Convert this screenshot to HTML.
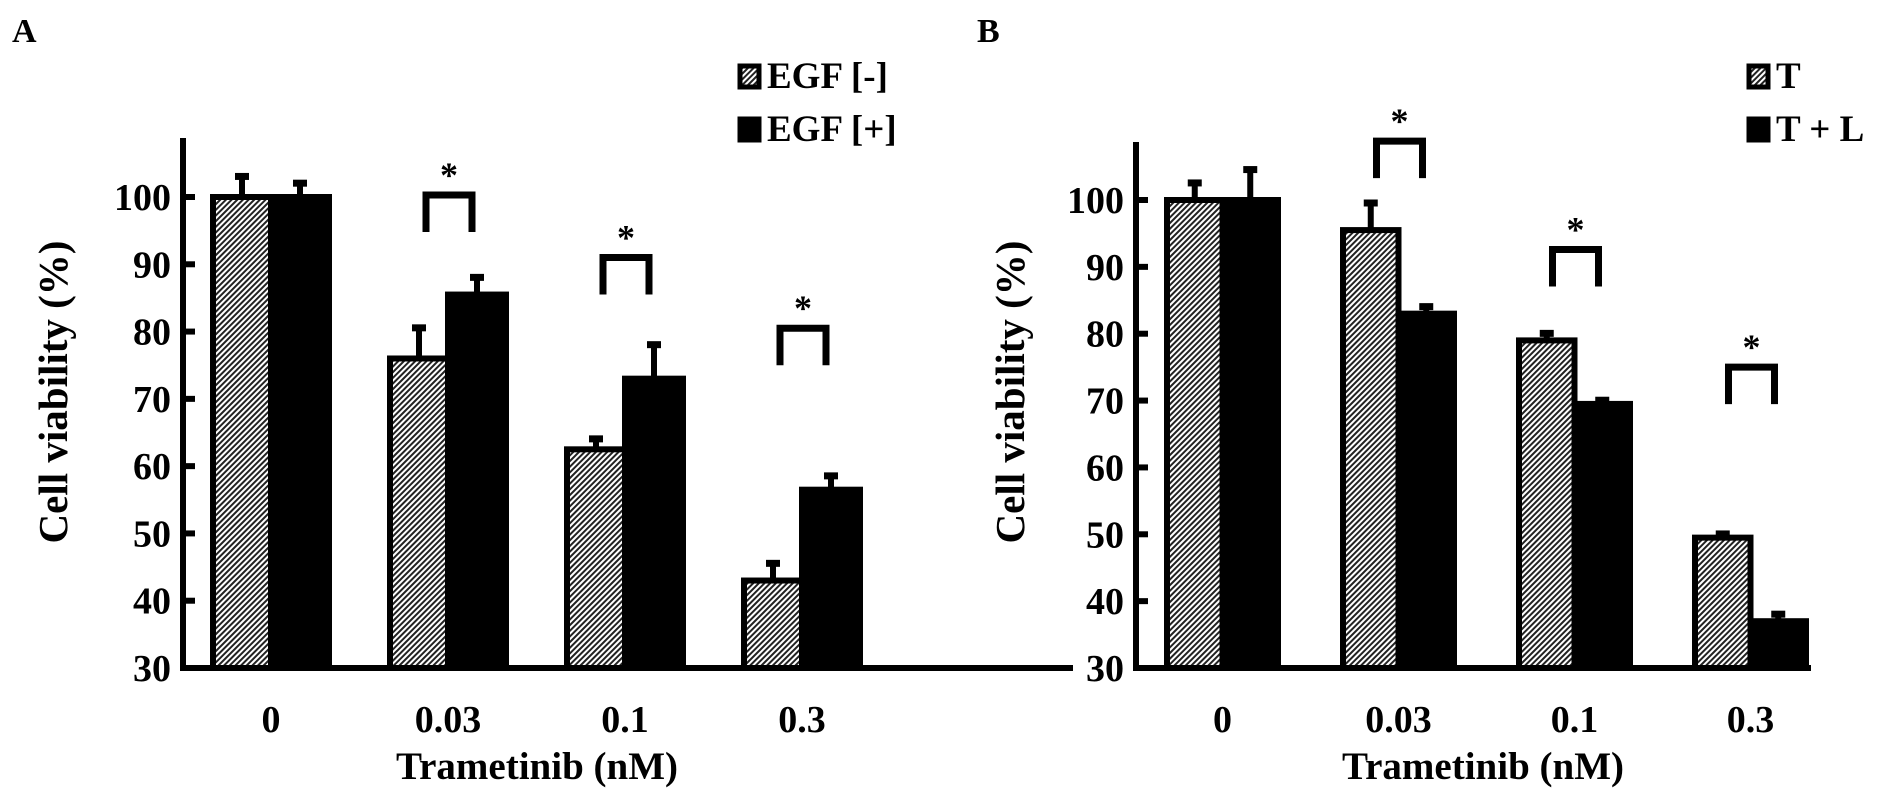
<!DOCTYPE html>
<html><head><meta charset="utf-8">
<style>
html,body{margin:0;padding:0;background:#fff;}
svg{display:block;font-family:"Liberation Serif",serif;font-weight:bold;}
</style></head>
<body>
<svg id="c" width="1890" height="802" viewBox="0 0 1890 802" xmlns="http://www.w3.org/2000/svg">
<defs>
<pattern id="hatch" patternUnits="userSpaceOnUse" width="4" height="4" patternTransform="rotate(45)">
<rect width="4" height="4" fill="#fff"/>
<rect width="2" height="4" fill="#222"/>
</pattern>
</defs>
</svg>
<script>
const categories = ["0","0.03","0.1","0.3"];
const yTicks = [30,40,50,60,70,80,90,100];
const aSeries1 = [100,76,62.5,43];
const aErr1 = [3.5,5,2,3];
const aSeries2 = [100,85.5,73,56.5];
const aErr2 = [2.5,3,5.5,2.5];
const aSig = [false,true,true,true];
const aBracket = [0,100.3,91,80.5];
const aLegend = ["EGF [-]","EGF [+]"];
const bSeries1 = [100,95.5,79,49.5];
const bErr1 = [3,4.5,1.5,1];
const bSeries2 = [100,83,69.5,37];
const bErr2 = [5,1.5,1,1.5];
const bSig = [false,true,true,true];
const bBracket = [0,108.8,92.6,75];
const bLegend = ["T","T + L"];

const svg = document.getElementById('c');
const NS = 'http://www.w3.org/2000/svg';
function mk(tag, attrs, text){
  const e = document.createElementNS(NS, tag);
  for (const k in attrs) e.setAttribute(k, attrs[k]);
  if (text !== undefined) e.textContent = text;
  svg.appendChild(e);
  return e;
}
const yMin = 30, yMax = 100;

function panel(p){
  const ax = p.axisX;
  const yBottom = p.yBottom, yTop100 = p.yTop;
  const yS = v => yBottom - (v - yMin) * (yBottom - yTop100) / (yMax - yMin);
  let e = mk('text',{x:p.letterX,y:42,'font-size':34}, p.letter);
  
  
  e = mk('line',{x1:ax,y1:p.axisTop,x2:ax,y2:yBottom+3,stroke:'#000','stroke-width':6});
  
  
  e = mk('line',{x1:ax-3,y1:yBottom,x2:p.axisEnd,y2:yBottom,stroke:'#000','stroke-width':6});
  
  
  yTicks.forEach(t=>{
    const y = yS(t);
    let l = mk('line',{x1:ax,y1:y,x2:ax+12,y2:y,stroke:'#000','stroke-width':6});
    
    
    let tx = mk('text',{x:ax-12,y:y+13,'font-size':38,'text-anchor':'end'}, String(t));
    
    
  });
  e = mk('text',{x:0,y:0,'font-size':41,'text-anchor':'middle',transform:`translate(${p.titleX},392) rotate(-90)`}, 'Cell viability (%)');
  
  
  e = mk('text',{x:p.xTitleX,y:779,'font-size':39,'text-anchor':'middle'}, 'Trametinib (nM)');
  
  
  const bw = p.bw;
  categories.forEach((c,i)=>{
    const x0 = p.groupStart + i * p.groupStep;
    const v1 = p.s1[i], v2 = p.s2[i];
    [[x0 + bw/2, v1, p.e1[i]], [x0 + bw + bw/2, v2, p.e2[i]]].forEach(([cx,v,er])=>{
      let l = mk('line',{x1:cx,y1:yS(v),x2:cx,y2:yS(v+er),stroke:'#000','stroke-width':6});
      
      
      let cp = mk('line',{x1:cx-7,y1:yS(v+er)+3,x2:cx+7,y2:yS(v+er)+3,stroke:'#000','stroke-width':7});
      
      
    });
    let r1 = mk('rect',{x:x0,y:yS(v1),width:bw,height:yBottom-yS(v1),fill:'url(#hatch)',stroke:'#000','stroke-width':6});
    
    
    let r2 = mk('rect',{x:x0+bw,y:yS(v2),width:bw,height:yBottom-yS(v2),fill:'#000',stroke:'#000','stroke-width':6});
    
    
    let xl = mk('text',{x:x0+bw,y:732,'font-size':38,'text-anchor':'middle'}, c);
    
    
    if (p.sig[i]) {
      const top = yS(p.br[i]);
      const bx1 = x0 + bw - 22, bx2 = x0 + bw + 24;
      let br = mk('path',{d:`M${bx1},${top+37} V${top} H${bx2} V${top+37}`,fill:'none',stroke:'#000','stroke-width':7});
      
      
      let st = mk('text',{x:(bx1+bx2)/2,y:top-8,'font-size':36,'text-anchor':'middle'}, '*');
      
      
    }
  });
  p.legend.forEach((lab,i)=>{
    const y = 66 + i*53;
    let b = mk('rect',{x:p.legX,y:y,width:19,height:21,fill:i===0?'url(#hatch)':'#000',stroke:'#000','stroke-width':5});
    
    
    let t = mk('text',{x:p.legX+27,y:y+22,'font-size':37}, lab);
    
    
  });
}
panel({letter:'A',letterX:12,axisX:183,axisTop:138,axisEnd:1073,yTop:197,yBottom:668,titleX:67,xTitleX:537,
  bw:58,groupStart:213,groupStep:177,s1:aSeries1,e1:aErr1,s2:aSeries2,e2:aErr2,sig:aSig,br:aBracket,legend:aLegend,legX:740});
panel({letter:'B',letterX:977,axisX:1136,axisTop:142,axisEnd:1811,yTop:200,yBottom:668,titleX:1024,xTitleX:1483,
  bw:55.5,groupStart:1167,groupStep:176,s1:bSeries1,e1:bErr1,s2:bSeries2,e2:bErr2,sig:bSig,br:bBracket,legend:bLegend,legX:1749});
</script>
</body></html>
